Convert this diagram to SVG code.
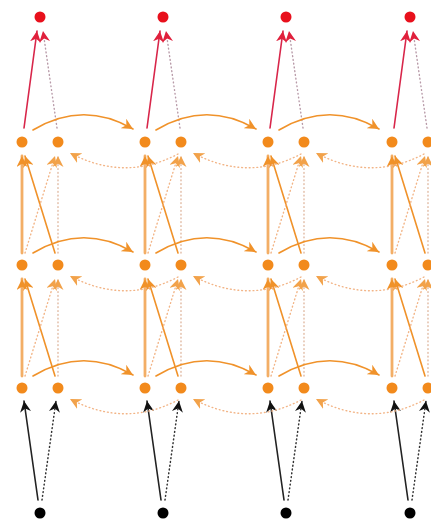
<svg xmlns="http://www.w3.org/2000/svg" xmlns:xlink="http://www.w3.org/1999/xlink" width="431" height="524" viewBox="0 0 431 524">
<style>
.on{fill:#f28a1c}
.rn{fill:#e8101c}
.bn{fill:#000}
.c{fill:none;stroke-linecap:round}
.os{stroke:#f0922a;stroke-width:1.6}
.ov{stroke:#f3ae66;stroke-width:2.8}
.od{stroke:#f2b486;stroke-width:1.4;stroke-dasharray:0.8 3}
.odv{stroke:#e0b8a0;stroke-width:1.4;stroke-dasharray:0.8 3}
.rs{stroke:#d8264a;stroke-width:1.6}
.rd{stroke:#b89aa8;stroke-width:1.4;stroke-dasharray:0.8 3}
.bs{stroke:#222;stroke-width:1.6}
.bd{stroke:#333;stroke-width:1.5;stroke-dasharray:0.8 3}
</style>
<defs>
<marker id="aO" markerUnits="userSpaceOnUse" markerWidth="11" markerHeight="11" viewBox="0 0 10 10" refX="10" refY="5" orient="auto"><path d="M0,0 L10,5 L0,10 L3,5 z" fill="#f0922a"/></marker>
<marker id="aOl" markerUnits="userSpaceOnUse" markerWidth="11" markerHeight="11" viewBox="0 0 10 10" refX="10" refY="5" orient="auto"><path d="M0,0 L10,5 L0,10 L3,5 z" fill="#f2a24a"/></marker>
<marker id="aR" markerUnits="userSpaceOnUse" markerWidth="11" markerHeight="11" viewBox="0 0 10 10" refX="10" refY="5" orient="auto"><path d="M0,0 L10,5 L0,10 L3,5 z" fill="#e0203c"/></marker>
<marker id="aB" markerUnits="userSpaceOnUse" markerWidth="11" markerHeight="11" viewBox="0 0 10 10" refX="10" refY="5" orient="auto"><path d="M0,0 L10,5 L0,10 L3,5 z" fill="#111"/></marker>
<g id="vert">
<path class="c rs" d="M24,128 L37,31" marker-end="url(#aR)"/>
<path class="c rd" d="M57,128 L43,31" marker-end="url(#aR)"/>
<path class="c bs" d="M38,500 L24,401" marker-end="url(#aB)"/>
<path class="c bd" d="M42,500 L56,401" marker-end="url(#aB)"/>
<path class="c ov" d="M22,376 L22,279" marker-end="url(#aO)"/>
<path class="c os" d="M55,376 L25,279" marker-end="url(#aO)"/>
<path class="c od" d="M25,376 L55,279" marker-end="url(#aOl)"/>
<path class="c odv" d="M58,376 L58,279" marker-end="url(#aOl)"/>
<path class="c ov" d="M22,253 L22,156" marker-end="url(#aO)"/>
<path class="c os" d="M55,253 L25,156" marker-end="url(#aO)"/>
<path class="c od" d="M25,253 L55,156" marker-end="url(#aOl)"/>
<path class="c odv" d="M58,253 L58,156" marker-end="url(#aOl)"/>
</g>
<g id="horiz">
<path class="c os" d="M33,130 Q83,100 133,129" marker-end="url(#aO)"/>
<path class="c os" d="M33,253 Q83,223 133,252" marker-end="url(#aO)"/>
<path class="c os" d="M33,376 Q83,346 133,375" marker-end="url(#aO)"/>
<path class="c od" d="M178,154 Q125,182 70,153" marker-end="url(#aOl)"/>
<path class="c od" d="M178,277 Q125,305 70,276" marker-end="url(#aOl)"/>
<path class="c od" d="M178,400 Q125,428 70,399" marker-end="url(#aOl)"/>
</g>
</defs>
<g id="connectors">
<use xlink:href="#vert"/>
<use xlink:href="#vert" x="123"/>
<use xlink:href="#vert" x="246"/>
<use xlink:href="#vert" x="370"/>
<use xlink:href="#horiz"/>
<use xlink:href="#horiz" x="123"/>
<use xlink:href="#horiz" x="246"/>
</g>
<g id="y1"><circle class="rn" cx="40" cy="17" r="5.5"/></g>
<g id="y2"><circle class="rn" cx="163" cy="17" r="5.5"/></g>
<g id="y3"><circle class="rn" cx="286" cy="17" r="5.5"/></g>
<g id="y4"><circle class="rn" cx="410" cy="17" r="5.5"/></g>
<g id="h3f1"><circle class="on" cx="22" cy="142" r="5.5"/></g>
<g id="h3b1"><circle class="on" cx="58" cy="142" r="5.5"/></g>
<g id="h3f2"><circle class="on" cx="145" cy="142" r="5.5"/></g>
<g id="h3b2"><circle class="on" cx="181" cy="142" r="5.5"/></g>
<g id="h3f3"><circle class="on" cx="268" cy="142" r="5.5"/></g>
<g id="h3b3"><circle class="on" cx="304" cy="142" r="5.5"/></g>
<g id="h3f4"><circle class="on" cx="392" cy="142" r="5.5"/></g>
<g id="h3b4"><circle class="on" cx="428" cy="142" r="5.5"/></g>
<g id="h2f1"><circle class="on" cx="22" cy="265" r="5.5"/></g>
<g id="h2b1"><circle class="on" cx="58" cy="265" r="5.5"/></g>
<g id="h2f2"><circle class="on" cx="145" cy="265" r="5.5"/></g>
<g id="h2b2"><circle class="on" cx="181" cy="265" r="5.5"/></g>
<g id="h2f3"><circle class="on" cx="268" cy="265" r="5.5"/></g>
<g id="h2b3"><circle class="on" cx="304" cy="265" r="5.5"/></g>
<g id="h2f4"><circle class="on" cx="392" cy="265" r="5.5"/></g>
<g id="h2b4"><circle class="on" cx="428" cy="265" r="5.5"/></g>
<g id="h1f1"><circle class="on" cx="22" cy="388" r="5.5"/></g>
<g id="h1b1"><circle class="on" cx="58" cy="388" r="5.5"/></g>
<g id="h1f2"><circle class="on" cx="145" cy="388" r="5.5"/></g>
<g id="h1b2"><circle class="on" cx="181" cy="388" r="5.5"/></g>
<g id="h1f3"><circle class="on" cx="268" cy="388" r="5.5"/></g>
<g id="h1b3"><circle class="on" cx="304" cy="388" r="5.5"/></g>
<g id="h1f4"><circle class="on" cx="392" cy="388" r="5.5"/></g>
<g id="h1b4"><circle class="on" cx="428" cy="388" r="5.5"/></g>
<g id="x1"><circle class="bn" cx="40" cy="513" r="5.5"/></g>
<g id="x2"><circle class="bn" cx="163" cy="513" r="5.5"/></g>
<g id="x3"><circle class="bn" cx="286" cy="513" r="5.5"/></g>
<g id="x4"><circle class="bn" cx="410" cy="513" r="5.5"/></g>
</svg>
